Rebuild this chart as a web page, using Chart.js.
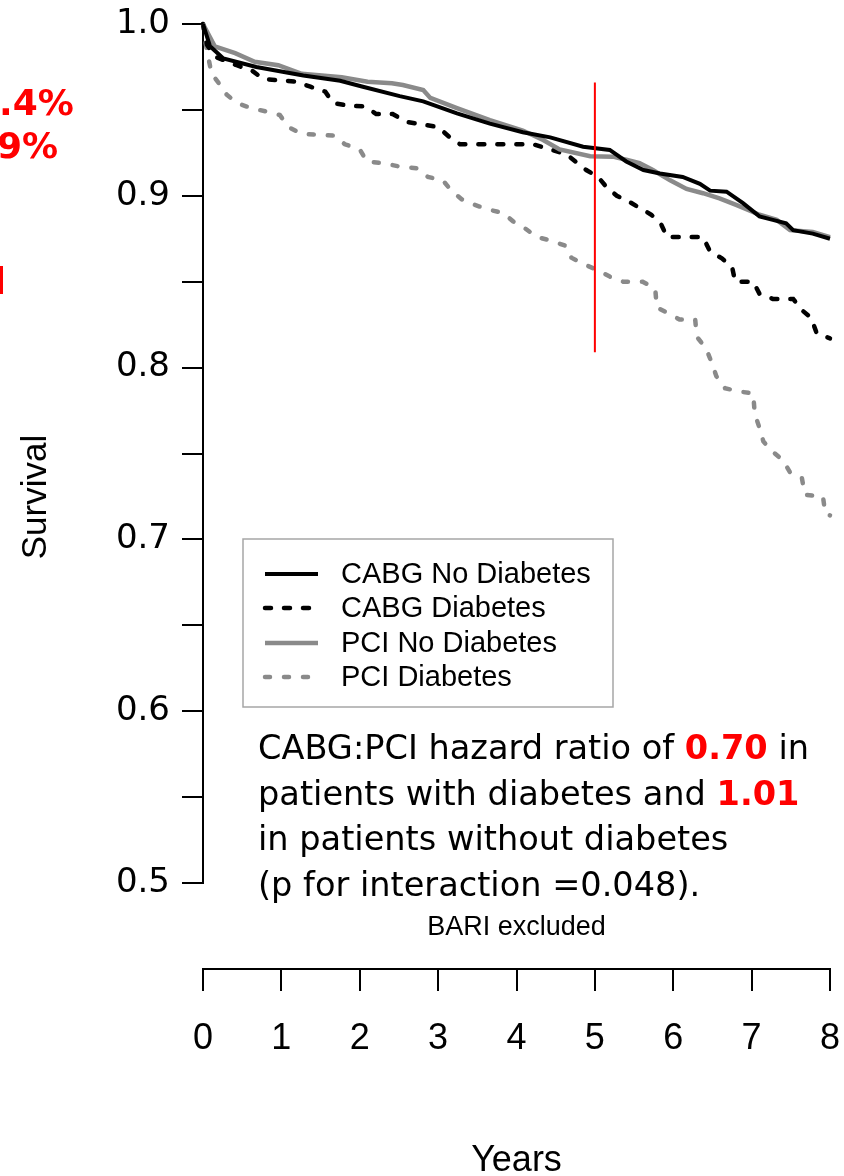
<!DOCTYPE html>
<html>
<head>
<meta charset="utf-8">
<script src="https://cdn.jsdelivr.net/npm/chart.js@4.4.0/dist/chart.umd.min.js"></script>
<style>
  html, body { margin: 0; padding: 0; background: #ffffff; }
  canvas { display: block; }
</style>
</head>
<body>
<canvas id="km" width="844" height="1176"></canvas>
<script>
// Kaplan-Meier curves, values (years, survival)
const cabgNoDiabYears = [0, 0.09, 0.26, 0.68, 1.28, 1.75, 2.04, 2.51, 2.81, 3.24, 3.66, 4.08, 4.43, 4.85, 5.19, 5.40, 5.62, 5.83, 6.12, 6.34, 6.47, 6.68, 6.89, 7.10, 7.27, 7.44, 7.53, 7.78, 8.0];
const cabgNoDiabSurv  = [1.0, 0.987, 0.980, 0.975, 0.970, 0.967, 0.9635, 0.958, 0.955, 0.948, 0.942, 0.937, 0.934, 0.9286, 0.9267, 0.920, 0.915, 0.913, 0.911, 0.907, 0.903, 0.9024, 0.8957, 0.888, 0.886, 0.884, 0.880, 0.878, 0.875];

const cabgDiabYears = [0, 0.05, 0.15, 0.43, 0.62, 0.77, 1.19, 1.37, 1.56, 1.66, 1.85, 2.07, 2.21, 2.42, 2.60, 3.0, 3.15, 3.28, 4.21, 4.43, 4.64, 4.89, 5.04, 5.15, 5.28, 5.42, 5.57, 5.72, 5.85, 5.92, 6.38, 6.47, 6.62, 6.75, 6.79, 7.02, 7.10, 7.27, 7.53, 7.64, 7.76, 7.83, 8.0];
const cabgDiabSurv  = [1.0, 0.988, 0.981, 0.976, 0.973, 0.968, 0.9664, 0.9635, 0.9606, 0.954, 0.9525, 0.952, 0.9476, 0.9476, 0.943, 0.940, 0.934, 0.930, 0.930, 0.927, 0.924, 0.915, 0.911, 0.905, 0.900, 0.897, 0.893, 0.889, 0.883, 0.876, 0.876, 0.8675, 0.8636, 0.8587, 0.850, 0.850, 0.843, 0.840, 0.840, 0.8335, 0.829, 0.820, 0.817];

const pciNoDiabYears = [0, 0.15, 0.41, 0.66, 0.96, 1.26, 1.77, 2.10, 2.41, 2.55, 2.81, 2.90, 3.24, 3.66, 4.08, 4.34, 4.55, 4.94, 5.23, 5.40, 5.57, 5.74, 5.96, 6.17, 6.38, 6.59, 6.81, 7.10, 7.32, 7.49, 7.78, 8.0];
const pciNoDiabSurv  = [1.0, 0.987, 0.983, 0.978, 0.976, 0.971, 0.969, 0.9664, 0.9655, 0.9645, 0.9616, 0.957, 0.951, 0.944, 0.938, 0.9325, 0.927, 0.923, 0.9228, 0.921, 0.919, 0.915, 0.909, 0.904, 0.9015, 0.8985, 0.8946, 0.889, 0.886, 0.880, 0.879, 0.876];

const pciDiabYears = [0, 0.03, 0.07, 0.11, 0.22, 0.30, 0.43, 0.62, 0.81, 0.98, 1.09, 1.26, 1.68, 1.81, 2.0, 2.09, 2.30, 2.51, 2.73, 2.87, 3.06, 3.17, 3.30, 3.45, 3.64, 3.83, 3.96, 4.11, 4.26, 4.43, 4.62, 4.70, 4.87, 5.02, 5.19, 5.36, 5.61, 5.77, 5.79, 5.92, 6.08, 6.28, 6.30, 6.42, 6.49, 6.55, 6.66, 6.85, 7.02, 7.04, 7.10, 7.15, 7.27, 7.40, 7.49, 7.64, 7.68, 7.91, 7.94, 8.0];
const pciDiabSurv  = [1.0, 0.990, 0.980, 0.971, 0.9645, 0.959, 0.954, 0.951, 0.949, 0.947, 0.940, 0.936, 0.935, 0.930, 0.927, 0.920, 0.919, 0.917, 0.916, 0.911, 0.909, 0.903, 0.898, 0.895, 0.892, 0.890, 0.885, 0.881, 0.876, 0.874, 0.871, 0.864, 0.860, 0.857, 0.853, 0.850, 0.850, 0.846, 0.835, 0.832, 0.828, 0.828, 0.818, 0.811, 0.803, 0.795, 0.788, 0.786, 0.785, 0.773, 0.765, 0.757, 0.751, 0.746, 0.739, 0.736, 0.726, 0.725, 0.715, 0.714];

// red 5-year marker
const markYears = [5, 5];
const markSurv = [0.966, 0.809];

const seriesLabels = ['CABG No Diabetes', 'CABG Diabetes', 'PCI No Diabetes', 'PCI Diabetes'];

// annotation text under the legend
const noteLines = [
  [['CABG:PCI hazard ratio of ', false], ['0.70', true], [' in', false]],
  [['patients with diabetes and ', false], ['1.01', true]],
  [['in patients without diabetes', false]],
  [['(p for interaction =0.048).', false]]
];
const subNote = 'BARI excluded';
const xTitle = 'Years';
const yTitle = 'Survival';
const cutTexts = ['.4%', '9%'];   // left-hand text cut off by the frame

const BLACK = '#000000';
const GREY = '#8a8a8a';
const RED = '#ff0000';
const ARIAL = '"Liberation Sans", Arial, sans-serif';
const TAHOMA = '"DejaVu Sans", Verdana, sans-serif';

function pairs(xs, ys) {
    return xs.map((x, i) => ({ x: x, y: ys[i] }));
}

const lineBase = { pointRadius: 0, fill: false, tension: 0, clip: 4 };

const datasets = [
    { ...lineBase, label: '', data: pairs(markYears, markSurv), borderColor: RED, borderWidth: 2, order: 0 },
    { ...lineBase, label: seriesLabels[0], data: pairs(cabgNoDiabYears, cabgNoDiabSurv), borderColor: BLACK, borderWidth: 4, order: 1 },
    { ...lineBase, label: seriesLabels[1], data: pairs(cabgDiabYears, cabgDiabSurv), borderColor: BLACK, borderWidth: 4.5, borderDash: [6, 13], borderCapStyle: 'round', order: 3 },
    { ...lineBase, label: seriesLabels[2], data: pairs(pciNoDiabYears, pciNoDiabSurv), borderColor: GREY, borderWidth: 4.5, order: 2 },
    { ...lineBase, label: seriesLabels[3], data: pairs(pciDiabYears, pciDiabSurv), borderColor: GREY, borderWidth: 4.5, borderDash: [5, 14], borderCapStyle: 'round', order: 4 }
];

const overlay = {
    id: 'overlay',
    afterDraw(chart) {
        const ctx = chart.ctx;
        const xs = chart.scales.x;
        ctx.save();

        // legend box
        ctx.strokeStyle = '#a6a6a6';
        ctx.lineWidth = 1.5;
        ctx.strokeRect(243, 539, 370, 168);
        const rows = [574, 608, 643, 677];
        ctx.font = '29px ' + ARIAL;
        ctx.textBaseline = 'middle';
        ctx.textAlign = 'left';
        chart.data.datasets.filter(d => d.label).forEach((d, i) => {
            ctx.save();
            ctx.strokeStyle = d.borderColor;
            ctx.lineWidth = d.borderWidth;
            ctx.lineCap = d.borderCapStyle || 'butt';
            ctx.setLineDash(d.borderDash || []);
            ctx.beginPath();
            ctx.moveTo(265, rows[i]);
            ctx.lineTo(318, rows[i]);
            ctx.stroke();
            ctx.restore();
            ctx.fillStyle = BLACK;
            ctx.fillText(d.label, 341, rows[i] + 1);
        });

        // hazard ratio note
        ctx.textBaseline = 'alphabetic';
        noteLines.forEach((parts, i) => {
            let x = 258;
            const y = 759 + i * 45.5;
            parts.forEach(([text, hot]) => {
                ctx.font = (hot ? 'bold ' : '') + '33.6px ' + TAHOMA;
                ctx.fillStyle = hot ? RED : BLACK;
                ctx.fillText(text, x, y);
                x += ctx.measureText(text).width;
            });
        });

        // small caption and axis titles
        const midX = xs.getPixelForValue(4);
        ctx.fillStyle = BLACK;
        ctx.textAlign = 'center';
        ctx.textBaseline = 'middle';
        ctx.font = '27px ' + ARIAL;
        ctx.fillText(subNote, midX, 928);
        ctx.font = '36px ' + ARIAL;
        ctx.fillText(xTitle, midX, 1161);

        ctx.save();
        ctx.translate(36, 497);
        ctx.rotate(-Math.PI / 2);
        ctx.font = '35px ' + ARIAL;
        ctx.fillText(yTitle, 0, 0);
        ctx.restore();

        // text from the neighbouring panel, cut off at the left edge
        ctx.fillStyle = RED;
        ctx.font = 'bold 36px ' + TAHOMA;
        ctx.textBaseline = 'alphabetic';
        ctx.textAlign = 'left';
        ctx.fillText(cutTexts[0], -1, 115);
        ctx.textAlign = 'right';
        ctx.fillText(cutTexts[1], 58, 158);
        ctx.fillRect(0, 266, 3, 28);

        ctx.restore();
    }
};

new Chart(document.getElementById('km'), {
    type: 'line',
    data: { datasets: datasets },
    options: {
        responsive: false,
        animation: false,
        events: [],
        layout: { padding: { left: 0, right: 14, top: 24, bottom: 293 } },
        plugins: {
            legend: { display: false },
            tooltip: { enabled: false }
        },
        scales: {
            x: {
                type: 'linear',
                min: 0,
                max: 8,
                position: { y: 0.45 },
                afterFit: (scale) => { scale.paddingLeft = 0; scale.paddingRight = 0; scale.height = 0; },
                ticks: {
                    stepSize: 1,
                    color: BLACK,
                    padding: 28,
                    maxRotation: 0,
                    font: { family: ARIAL, size: 36 }
                },
                grid: { drawOnChartArea: false, tickLength: 21, color: BLACK, lineWidth: 2 },
                border: { color: BLACK, width: 2 }
            },
            y: {
                type: 'linear',
                min: 0.5,
                max: 1.0,
                position: 'left',
                afterFit: (scale) => { scale.width = 203; scale.paddingTop = 0; scale.paddingBottom = 0; },
                ticks: {
                    stepSize: 0.05,
                    color: BLACK,
                    padding: 12,
                    autoSkip: false,
                    font: { family: TAHOMA, size: 34 },
                    callback: function(value) {
                        const r = Math.round(value * 100);
                        return r % 10 === 0 ? (r / 100).toFixed(1) : '';
                    }
                },
                grid: { drawOnChartArea: false, tickLength: 21, color: BLACK, lineWidth: 2 },
                border: { color: BLACK, width: 2 }
            }
        }
    },
    plugins: [overlay]
});
</script>
</body>
</html>
